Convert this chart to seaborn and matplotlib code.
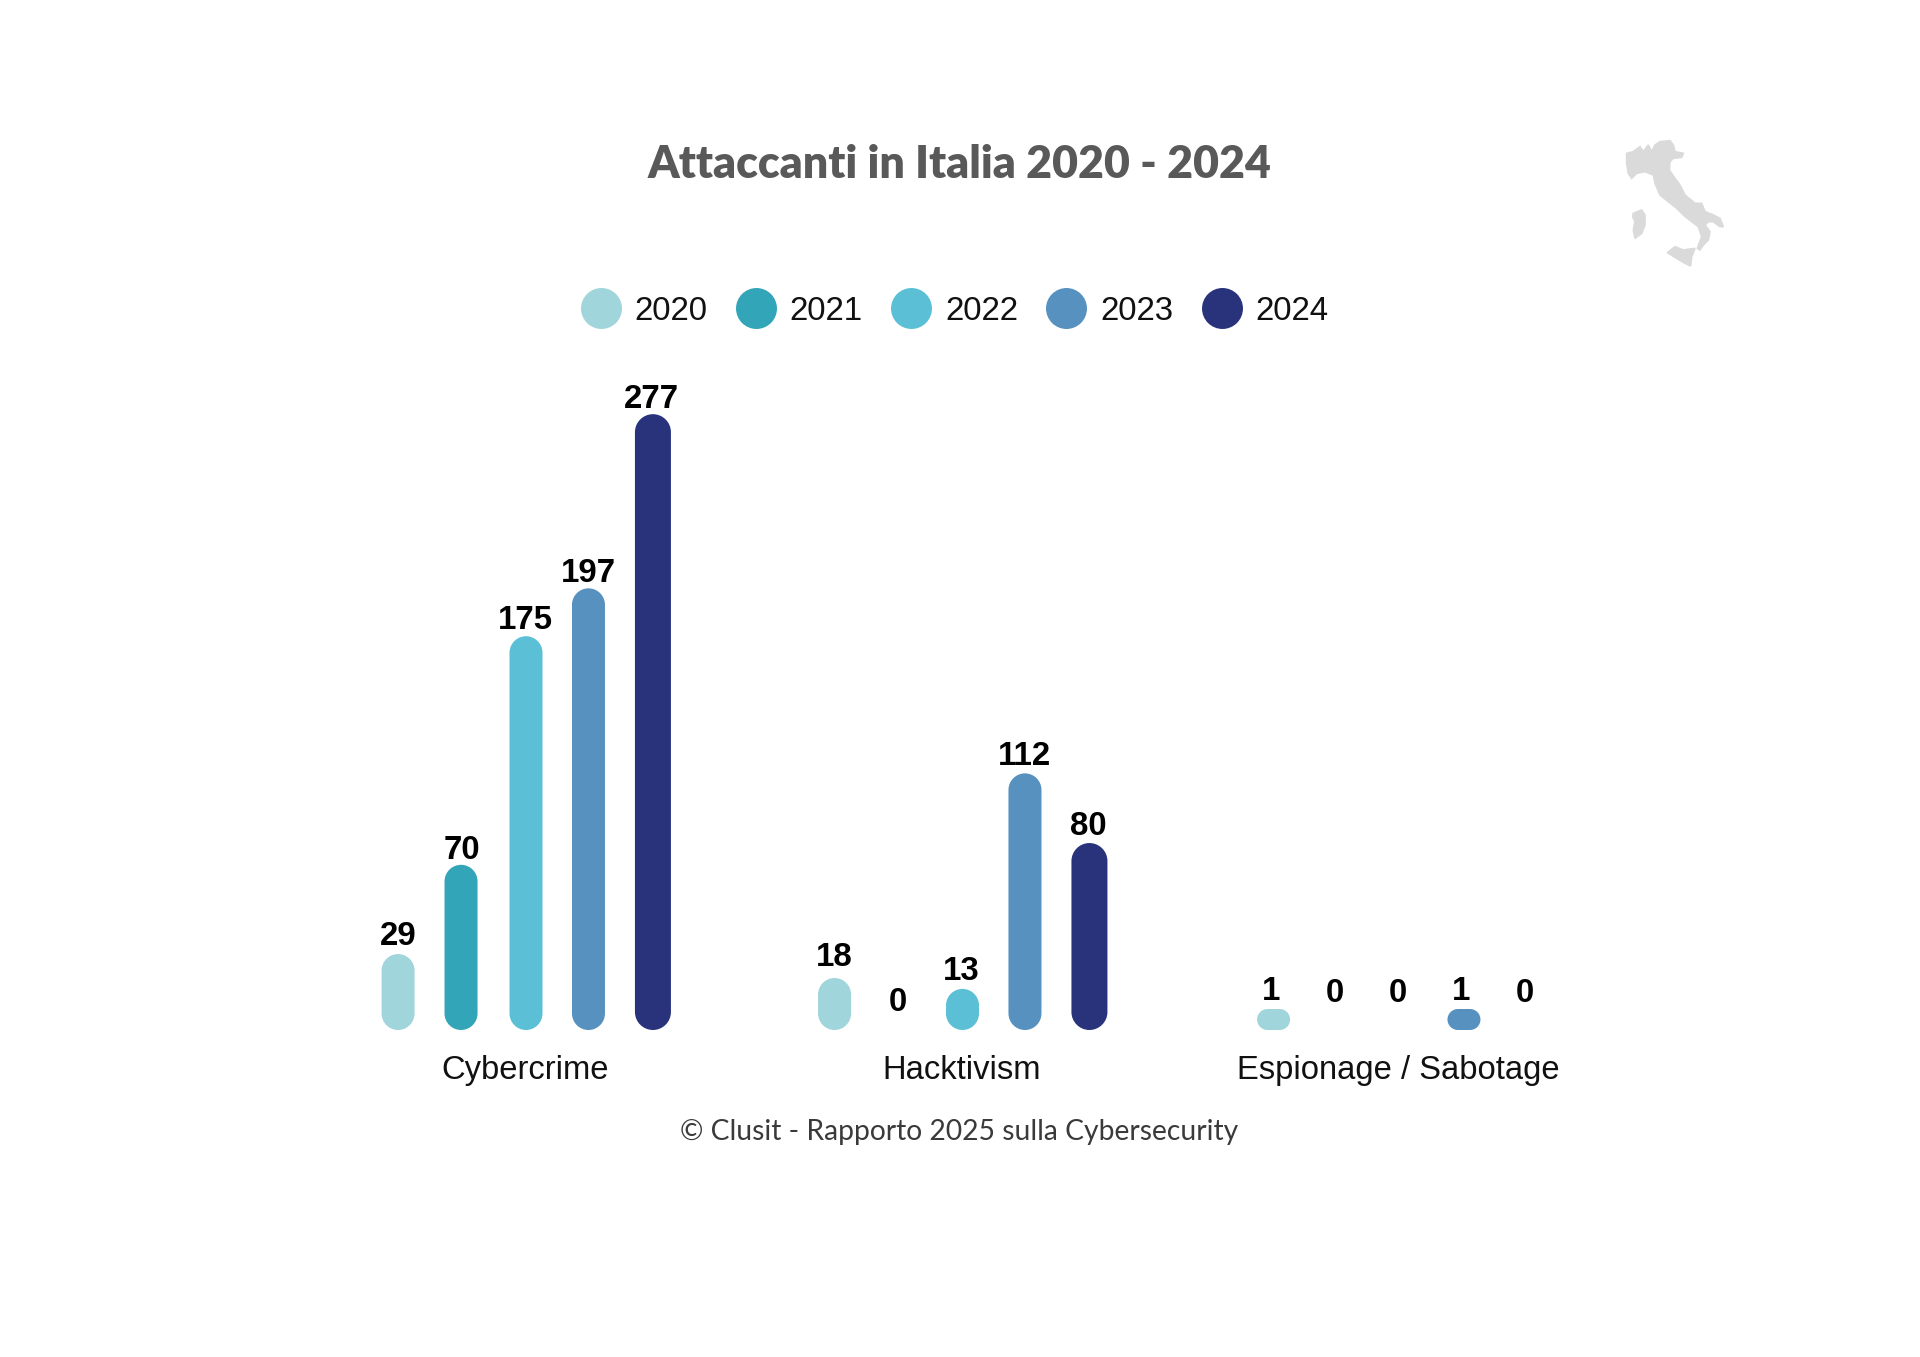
import matplotlib
matplotlib.use("Agg")
import matplotlib.pyplot as plt
from matplotlib.lines import Line2D
from matplotlib.patches import PathPatch, Polygon
from matplotlib.path import Path
import pandas as pd
import seaborn as sns

# ---------- data ----------
attackers = ["Cybercrime", "Hacktivism", "Espionage / Sabotage"]
years = ["2020", "2021", "2022", "2023", "2024"]
values_2020 = [29, 18, 1]
values_2021 = [70, 0, 0]
values_2022 = [175, 13, 0]
values_2023 = [197, 112, 1]
values_2024 = [277, 80, 0]
series = [values_2020, values_2021, values_2022, values_2023, values_2024]
colors = ["#A0D5DB", "#32A6B8", "#5BC0D6", "#5691BF", "#29337C"]

title = "Attaccanti in Italia 2020 - 2024"
footer = "© Clusit - Rapporto 2025 sulla Cybersecurity"

# ---------- layout (pixels of the 1920x1357 canvas) ----------
W, H = 1920, 1357
PX_PER_CAT = 436.5
PX_PER_UNIT = 2.177
CAT0_PX = 525
ZERO_PX = 1023.6
XMIN, XMAX = -0.6, 2.6
YMAX = 300
# distance, px, from bar top to the centre of its label (per year, per attacker)
label_gap = {
    "2020": [18, 21, 17.5], "2021": [14, 21, 30], "2022": [15.5, 17, 30],
    "2023": [15, 17, 17.5], "2024": [14.5, 16.5, 30],
}
bar_px = {"2020": 33, "2021": 33, "2022": 33, "2023": 33, "2024": 36}
bar_shift_px = {"2020": 0, "2021": -0.5, "2022": 1, "2023": 0, "2024": 1}
group_shift_px = [0, 0, 2.5]
BASE_EXT_PX = 6.4
MIN_BAR_PX = 21

sns.set_theme(style="white")
plt.rcParams["font.family"] = ["Liberation Sans", "DejaVu Sans"]

df = pd.DataFrame({
    "Attacker": [a for _ in years for a in attackers],
    "Year": [y for y in years for _ in attackers],
    "Attacks": [v for s in series for v in s],
})

fig = plt.figure(figsize=(W / 100, H / 100), dpi=100, facecolor="white")
ax_left = CAT0_PX + XMIN * PX_PER_CAT
ax_w = (XMAX - XMIN) * PX_PER_CAT
ax_h = YMAX * PX_PER_UNIT
ax = fig.add_axes([ax_left / W, (H - ZERO_PX) / H, ax_w / W, ax_h / H])

sns.barplot(data=df, x="Attacker", y="Attacks", hue="Year", order=attackers,
            hue_order=years, palette=colors, width=0.727, gap=0.48,
            legend=False, ax=ax, errorbar=None)
ax.set_xlim(XMIN, XMAX)
ax.set_ylim(0, YMAX)
ax.set_xlabel("")
ax.set_ylabel("")
ax.set_yticks([])
ax.tick_params(axis="x", length=0, pad=22.6, labelsize=23.6, labelcolor="#111111")
sns.despine(ax=ax, left=True, bottom=True)

x_per_px = (XMAX - XMIN) / ax_w
y_per_px = YMAX / ax_h


def pill(x0, x1, y0, y1, rx, ry):
    """Closed outline of a bar with elliptical corners, in data units."""
    k = 0.5523
    verts = [(x0 + rx, y0), (x1 - rx, y0),
             (x1 - rx + k * rx, y0), (x1, y0 + ry - k * ry), (x1, y0 + ry),
             (x1, y1 - ry),
             (x1, y1 - ry + k * ry), (x1 - rx + k * rx, y1), (x1 - rx, y1),
             (x0 + rx, y1),
             (x0 + rx - k * rx, y1), (x0, y1 - ry + k * ry), (x0, y1 - ry),
             (x0, y0 + ry),
             (x0, y0 + ry - k * ry), (x0 + rx - k * rx, y0), (x0 + rx, y0),
             (x0 + rx, y0)]
    codes = [Path.MOVETO, Path.LINETO,
             Path.CURVE4, Path.CURVE4, Path.CURVE4, Path.LINETO,
             Path.CURVE4, Path.CURVE4, Path.CURVE4, Path.LINETO,
             Path.CURVE4, Path.CURVE4, Path.CURVE4, Path.LINETO,
             Path.CURVE4, Path.CURVE4, Path.CURVE4, Path.CLOSEPOLY]
    return Path(verts, codes)


# seaborn's rectangles become rounded pills, keeping their position and value
for year, color, container in zip(years, colors, ax.containers):
    w = bar_px[year] * x_per_px
    for i, rect in enumerate(container):
        v = rect.get_height()
        cx = rect.get_x() + rect.get_width() / 2
        rect.set_visible(False)
        if v > 0:
            bx = cx + (bar_shift_px[year] + group_shift_px[i]) * x_per_px
            y0 = -BASE_EXT_PX * y_per_px
            y1 = max(v + BASE_EXT_PX * y_per_px, y0 + MIN_BAR_PX * y_per_px)
            h_px = (y1 - y0) / y_per_px
            r_px = min(bar_px[year], h_px) / 2
            ax.add_patch(PathPatch(
                pill(bx - w / 2, bx + w / 2, y0, y1, r_px * x_per_px, r_px * y_per_px),
                facecolor=color, edgecolor="none", clip_on=False, zorder=3))
            top_px = y1 / y_per_px
        else:
            top_px = 0
        ax.annotate(f"{int(v)}", (cx, 0),
                    xytext=(0, (top_px + label_gap[year][i]) * 0.72),
                    textcoords="offset points", ha="center", va="center",
                    fontsize=23.8, fontweight="bold", color="black")

handles = [Line2D([], [], linestyle="none", marker="o", markersize=29.5,
                  markerfacecolor=c, markeredgecolor="none", label=y)
           for y, c in zip(years, colors)]
fig.legend(handles=handles, ncol=5, frameon=False, fontsize=23.8,
           loc="center", bbox_to_anchor=(954.5 / W, 1 - 311.5 / H),
           handlelength=1.24, handletextpad=0.4, columnspacing=0.845,
           borderpad=0, borderaxespad=0, labelcolor="#111111")

fig.text(959.5 / W, 1 - 164 / H, title, ha="center", va="center",
         family="Lato", fontweight="heavy", fontsize=32.1, color="#595959")
fig.text(959.5 / W, 1 - 1132 / H, footer, ha="center", va="center",
         family="Lato", fontweight="normal", fontsize=20.3, color="#3A3A3A")

# decorative silhouette of Italy (local icon outline)
icon = fig.add_axes([1580 / W, 1 - 290 / H, 200 / W, 170 / H])
icon.set_xlim(0, 600)
icon.set_ylim(510, 0)
icon.axis("off")
mainland = [(140, 100), (160, 95), (180, 80), (190, 95), (205, 75), (215, 95), (225, 75),
            (240, 65), (270, 62), (280, 75), (285, 95), (310, 100), (305, 112), (280, 115),
            (270, 125), (268, 150), (285, 175), (300, 195), (315, 225), (345, 250), (365, 250),
            (375, 275), (400, 285), (420, 295), (430, 320), (420, 320), (400, 305), (385, 305),
            (375, 315), (390, 335), (385, 360), (370, 375), (360, 390), (352, 385), (365, 350),
            (355, 320), (335, 305), (310, 285), (290, 265), (265, 245), (240, 225), (225, 190),
            (220, 165), (195, 155), (170, 160), (155, 175), (145, 160), (140, 130)]
sardinia = [(160, 280), (185, 270), (195, 285), (195, 315), (185, 340), (165, 355),
            (160, 330), (165, 305), (158, 290)]
sicily = [(262, 398), (285, 380), (310, 390), (345, 385), (335, 410), (332, 438),
          (315, 430), (290, 415)]
for outline in (mainland, sardinia, sicily):
    icon.add_patch(Polygon(outline, closed=True, facecolor="#DADADA",
                           edgecolor="#DADADA", linewidth=1.2))

fig.savefig("out.png", dpi=100, facecolor="white")
